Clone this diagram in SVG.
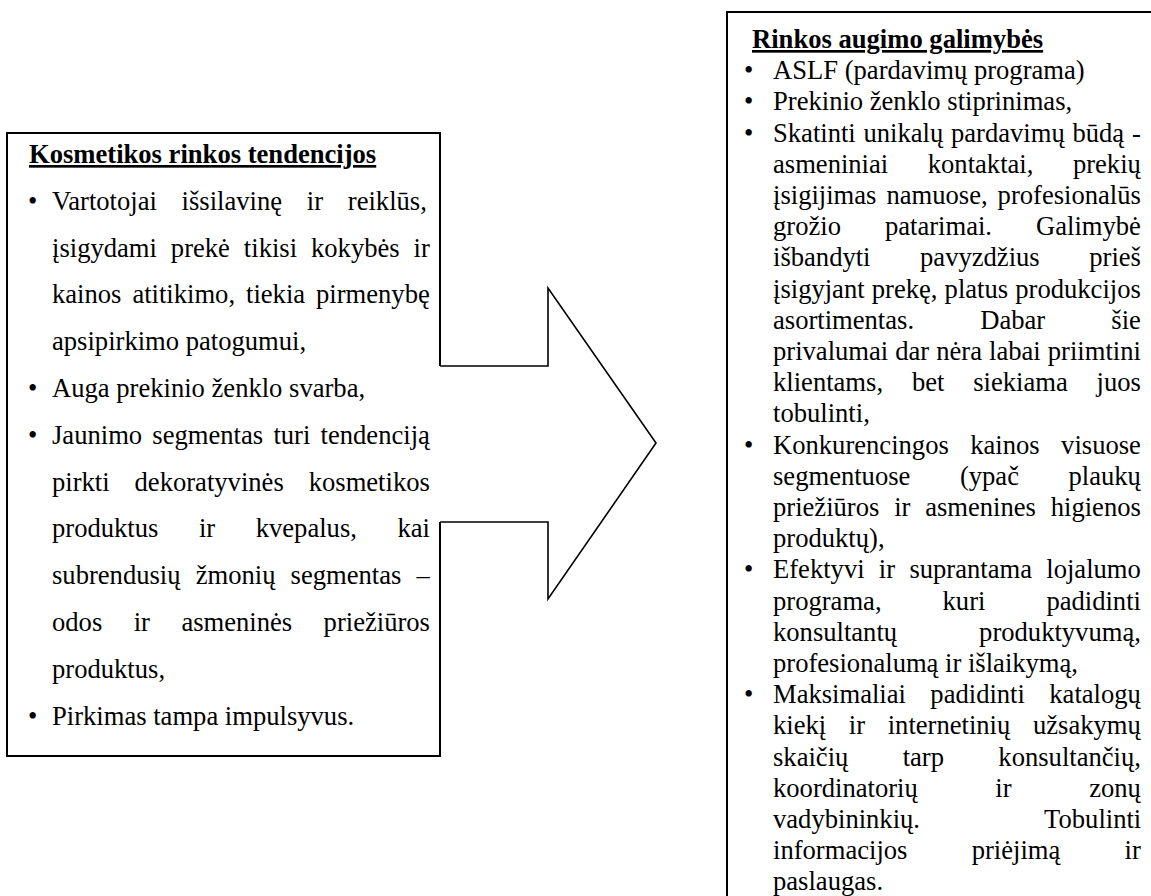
<svg xmlns="http://www.w3.org/2000/svg" width="1151" height="896" viewBox="0 0 1151 896">
<style>
.t{font-family:"Liberation Serif","Times New Roman",serif;font-size:26.6px;fill:#000}
.h{font-weight:bold;text-decoration:underline}
.box{fill:#fff;stroke:#000;stroke-width:2}
.arr{fill:#fff;stroke:#000;stroke-width:1.6;stroke-linejoin:miter}
</style>
<rect width="1151" height="896" fill="#fff"/>
<g id="left-box">
<path class="box" d="M440,366 V133 H7 V756 H440 V522"/>
<text class="t h" x="29" y="163">Kosmetikos rinkos tendencijos</text>
<text class="t" x="28" y="209.8">•</text>
<text class="t" x="52" y="209.8" word-spacing="18.1">Vartotojai išsilavinę ir reiklūs,</text>
<text class="t" x="52" y="256.6" word-spacing="7.3">įsigydami prekė tikisi kokybės ir</text>
<text class="t" x="52" y="303.4" word-spacing="4.3">kainos atitikimo, tiekia pirmenybę</text>
<text class="t" x="52" y="350.2">apsipirkimo patogumui,</text>
<text class="t" x="28" y="397">•</text>
<text class="t" x="52" y="397">Auga prekinio ženklo svarba,</text>
<text class="t" x="28" y="443.8">•</text>
<text class="t" x="52" y="443.8" word-spacing="3.6">Jaunimo segmentas turi tendenciją</text>
<text class="t" x="52" y="490.6" word-spacing="18.3">pirkti dekoratyvinės kosmetikos</text>
<text class="t" x="52" y="537.4" word-spacing="33.9">produktus ir kvepalus, kai</text>
<text class="t" x="52" y="584.2" word-spacing="8.5">subrendusių žmonių segmentas –</text>
<text class="t" x="52" y="631" word-spacing="24.8">odos ir asmeninės priežiūros</text>
<text class="t" x="52" y="677.8">produktus,</text>
<text class="t" x="28" y="724.6">•</text>
<text class="t" x="52" y="724.6">Pirkimas tampa impulsyvus.</text>
</g>
<g id="connectors">
<polyline class="arr" points="440,366 548,366 548,288 656,443 548,599 548,522 440,522"/>
</g>
<g id="right-box">
<rect class="box" x="727" y="12" width="440" height="900"/>
<text class="t h" x="752" y="48">Rinkos augimo galimybės</text>
<text class="t" x="744" y="79.2">•</text>
<text class="t" x="773" y="79.2">ASLF (pardavimų programa)</text>
<text class="t" x="744" y="110.4">•</text>
<text class="t" x="773" y="110.4">Prekinio ženklo stiprinimas,</text>
<text class="t" x="744" y="141.6">•</text>
<text class="t" x="773" y="141.6" word-spacing="1.1">Skatinti unikalų pardavimų būdą -</text>
<text class="t" x="773" y="172.8" word-spacing="32.9">asmeniniai kontaktai, prekių</text>
<text class="t" x="773" y="204" word-spacing="3.35">įsigijimas namuose, profesionalūs</text>
<text class="t" x="773" y="235.2" word-spacing="37.35">grožio patarimai. Galimybė</text>
<text class="t" x="773" y="266.4" word-spacing="42.9">išbandyti pavyzdžius prieš</text>
<text class="t" x="773" y="297.6" word-spacing="0.5">įsigyjant prekę, platus produkcijos</text>
<text class="t" x="773" y="328.8" word-spacing="59.5">asortimentas. Dabar šie</text>
<text class="t" x="773" y="360" word-spacing="0.4">privalumai dar nėra labai priimtini</text>
<text class="t" x="773" y="391.2" word-spacing="22.2">klientams, bet siekiama juos</text>
<text class="t" x="773" y="422.4">tobulinti,</text>
<text class="t" x="744" y="453.6">•</text>
<text class="t" x="773" y="453.6" word-spacing="14.8">Konkurencingos kainos visuose</text>
<text class="t" x="773" y="484.8" word-spacing="42.9">segmentuose (ypač plaukų</text>
<text class="t" x="773" y="516" word-spacing="8.15">priežiūros ir asmenines higienos</text>
<text class="t" x="773" y="547.2">produktų),</text>
<text class="t" x="744" y="578.4">•</text>
<text class="t" x="773" y="578.4" word-spacing="7.65">Efektyvi ir suprantama lojalumo</text>
<text class="t" x="773" y="609.6" word-spacing="54.35">programa, kuri padidinti</text>
<text class="t" x="773" y="640.8" word-spacing="75.35">konsultantų produktyvumą,</text>
<text class="t" x="773" y="672">profesionalumą ir išlaikymą,</text>
<text class="t" x="744" y="703.2">•</text>
<text class="t" x="773" y="703.2" word-spacing="17.75">Maksimaliai padidinti katalogų</text>
<text class="t" x="773" y="734.4" word-spacing="16">kiekį ir internetinių užsakymų</text>
<text class="t" x="773" y="765.6" word-spacing="47.7">skaičių tarp konsultančių,</text>
<text class="t" x="773" y="796.8" word-spacing="70.95">koordinatorių ir zonų</text>
<text class="t" x="773" y="828" word-spacing="117.95">vadybininkių. Tobulinti</text>
<text class="t" x="773" y="859.2" word-spacing="57.65">informacijos priėjimą ir</text>
<text class="t" x="773" y="890.4">paslaugas.</text>
</g>
</svg>
